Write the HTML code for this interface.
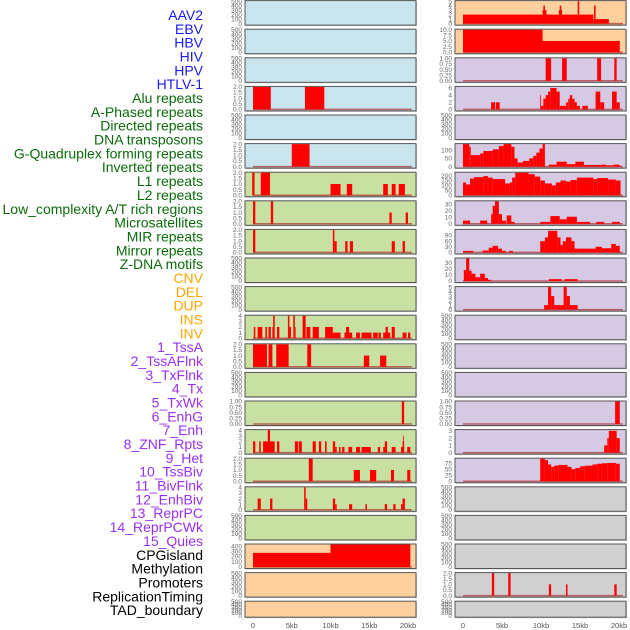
<!DOCTYPE html>
<html><head><meta charset="utf-8"><style>
html,body{margin:0;padding:0;background:#fff;}
svg{display:block;font-family:"Liberation Sans",sans-serif;}
</style></head><body>
<svg id="chart" width="630" height="630" viewBox="0 0 630 630" xmlns="http://www.w3.org/2000/svg">
<g id="labels"></g>
<g id="panels"></g>
<g id="xaxis"></g>
</svg>
<script>
// ---------- data ----------
const trackLabels = ["AAV2","EBV","HBV","HIV","HPV","HTLV-1","Alu repeats","A-Phased repeats","Directed repeats","DNA transposons","G-Quadruplex forming repeats","Inverted repeats","L1 repeats","L2 repeats","Low_complexity A/T rich regions","Microsatellites","MIR repeats","Mirror repeats","Z-DNA motifs","CNV","DEL","DUP","INS","INV","1_TssA","2_TssAFlnk","3_TxFlnk","4_Tx","5_TxWk","6_EnhG","7_Enh","8_ZNF_Rpts","9_Het","10_TssBiv","11_BivFlnk","12_EnhBiv","13_ReprPC","14_ReprPCWk","15_Quies","CPGisland","Methylation","Promoters","ReplicationTiming","TAD_boundary"];
const labelGroups = ["v","v","v","v","v","v","r","r","r","r","r","r","r","r","r","r","r","r","r","s","s","s","s","s","c","c","c","c","c","c","c","c","c","c","c","c","c","c","c","o","o","o","o","o"];
const xTickKb = [0,5,10,15,20];
const xTickLabels = ["0","5kb","10kb","15kb","20kb"];

// segments: [startKb, endKb, value]
const L3 = [[0,2.3,2],[6.7,9.2,2]];
const L5 = [[5.0,7.3,2]];
const L6 = [[-0.1,0.2,2],[1.0,2.2,2],[10.0,11.3,1],[12.1,12.8,1],[16.8,17.4,1],[17.9,18.4,1],[18.8,19.6,1]];
const L7 = [[0,0.3,2],[2.3,2.6,2],[17.6,17.9,1],[19.7,20.0,1]];
const L8 = [[0,0.3,2],[10.3,10.5,2],[10.5,10.8,1],[11.9,12.2,1],[12.5,12.9,1],[17.9,18.3,1],[19.3,19.6,1]];
const L11 = [[0.1,0.3,2],[0.6,1.2,2],[1.6,1.8,2],[2.0,2.3,2],[2.5,2.7,2],[2.6,2.8,4],[3.1,3.4,2],[4.5,4.7,4],[4.7,4.9,2],[5.2,5.4,4],[5.4,5.5,2],[6.4,6.8,4],[6.9,7.4,2],[7.7,8.5,2],[9.3,10.3,2],[10.3,11.3,1],[11.8,12.8,1],[12.0,12.4,2],[13.3,13.8,1],[14.0,15.3,1],[15.5,16.1,1],[16.2,16.5,1],[16.8,17.7,1],[17.1,17.4,2],[17.9,18.3,2],[19.3,19.8,1],[20.0,20.3,1]];
const L12 = [[0,1.8,2],[2.0,2.5,2],[3.0,4.6,2],[7.0,7.5,2],[14.3,15.0,1],[16.4,17.2,1]];
const L14 = [[19.2,19.5,1]];
const L15 = [[0,0.3,2],[0.8,1.0,2],[1.3,2.8,2],[1.9,2.2,4],[3.1,3.4,2],[5.4,5.8,2],[5.9,6.3,2],[7.7,8.1,2],[8.5,8.8,2],[9.3,9.5,2],[10.3,10.6,2],[10.6,10.8,1],[11.1,11.3,1],[11.5,11.8,1],[12.3,12.8,1],[13.3,13.8,1],[14.0,14.7,1],[14.7,15.2,1],[16.1,16.4,1],[16.8,17.3,1],[17.0,17.3,2],[17.9,18.4,1],[19.1,19.5,1],[19.3,19.5,2],[19.35,19.45,3],[19.9,20.3,1]];
const L16 = [[7.2,7.7,2],[13.0,13.8,1],[15.1,15.9,1],[17.8,18.2,1],[19.9,20.3,1]];
const L17 = [[0.6,1.0,2],[2.2,2.5,2],[6.6,6.8,4],[6.8,7.0,2],[10.3,10.6,2],[10.6,10.8,1],[12.4,12.8,1],[14.5,14.7,1],[17.0,17.3,1],[18.1,18.4,1],[19.1,19.3,1],[19.3,19.6,2]];
const L19 = [[0,10,270],[10,20.3,430]];

const R0 = [[0,16.7,2],[10.2,10.7,3],[10.3,10.5,4],[12.3,12.7,3],[12.4,12.6,4],[14.7,14.9,5],[16.8,17.0,4],[16.7,18.7,1]];
const R1 = [[0,10.2,10],[10.2,20.1,5]];
const R2 = [[10.6,11.3,1],[12.7,13.3,1],[17.2,17.7,1],[19.4,19.7,1]];
const R3 = [[3.6,4.1,2],[4.2,4.7,2],[9.9,10.0,4],[10.0,10.3,1],[10.3,10.6,3],[10.6,10.9,4],[10.9,11.2,5],[11.2,12.0,6],[12.0,12.4,5],[12.4,13.2,1],[13.2,13.5,2],[13.5,13.7,3],[13.7,14.0,4],[14.0,14.3,3],[14.3,14.6,2],[14.6,15.0,1],[15.3,16.0,1],[17.0,17.6,5],[17.6,18.1,2],[19.1,19.7,5],[19.7,20.1,2]];
const R5 = [[0,0.8,137],[0.8,1.0,120],[1.0,2.2,70],[2.2,2.6,80],[2.6,3.8,95],[3.8,4.6,105],[4.6,5.2,125],[5.2,6.2,137],[6.2,6.6,120],[6.6,7.0,50],[7.0,7.7,25],[7.7,8.5,35],[8.5,9.0,50],[9.0,9.4,65],[9.4,9.8,85],[9.8,10.2,110],[10.2,10.5,137],[11.0,12.0,12],[12.0,13.3,30],[13.3,14.4,15],[14.4,15.5,30],[15.5,17.8,10],[17.8,18.3,12],[18.3,19.3,8],[19.3,20.0,12],[20.0,20.2,8]];
const R6 = [[0,0.4,130],[0.4,0.9,110],[0.9,1.4,170],[1.4,2.6,185],[2.6,3.2,195],[3.2,3.8,180],[3.8,5.4,165],[5.4,6.0,120],[6.0,6.3,130],[6.3,6.7,180],[6.7,8.4,230],[8.4,9.2,215],[9.2,9.9,190],[9.9,10.5,150],[10.5,11.4,120],[11.4,11.9,100],[11.9,12.5,130],[12.5,13.2,150],[13.2,13.8,140],[13.8,14.6,155],[14.6,16.7,180],[16.7,17.2,165],[17.2,18.6,175],[18.6,19.6,160],[19.6,20.2,150]];
const R7 = [[0,0.9,5],[2.2,3.1,5],[3.6,3.8,15],[3.8,4.1,28],[4.1,4.6,35],[4.6,5.0,15],[5.0,5.5,5],[5.6,6.2,13],[6.2,6.6,3],[9.9,11.2,3],[11.2,12.4,12],[12.4,13.3,7],[13.3,14.6,11],[14.6,16.3,3],[17.1,18.1,3],[19.1,20.1,3]];
const R8 = [[0,1.3,8],[2.5,3.3,10],[3.3,3.8,25],[3.8,4.5,35],[4.5,5.0,20],[5.0,5.5,8],[5.9,6.4,8],[9.9,10.5,60],[10.5,10.9,80],[10.9,12.1,115],[12.1,12.5,80],[12.5,12.8,40],[12.8,13.2,60],[13.2,13.9,80],[13.9,14.3,60],[14.3,14.7,20],[14.7,17.0,20],[17.0,17.8,30],[17.8,19.0,22],[19.0,19.6,45],[19.6,20.1,35]];
const R9 = [[0.1,0.4,18],[0.4,0.8,37],[0.8,1.1,17],[1.1,1.6,12],[1.6,2.2,6],[2.2,2.8,12],[2.8,3.2,5],[3.2,3.6,2],[11.0,12.7,3],[13.0,14.7,3]];
const R10 = [[10.4,10.9,1],[10.9,11.3,5],[11.3,11.7,3],[11.7,12.9,1],[12.9,13.3,5],[13.3,13.7,3],[13.7,14.7,1]];
const R14 = [[19.5,20.1,1]];
const R15 = [[18.1,18.5,1],[18.5,18.7,2],[18.7,19.7,3],[19.7,20.1,2]];
const R16 = [[9.9,10.5,94],[10.5,10.9,88],[10.9,11.3,70],[11.3,11.7,60],[11.7,12.2,65],[12.2,13.4,68],[13.4,13.9,60],[13.9,14.4,50],[14.4,15.0,55],[15.0,15.6,62],[15.6,16.6,65],[16.6,17.2,70],[17.2,17.8,73],[17.8,18.5,75],[18.5,19.6,76],[19.6,20.1,73]];
const R20 = [[3.7,4.0,2],[5.8,6.1,2],[11.0,11.3,1],[13.2,13.4,1],[19.4,19.7,1]];

const emptyTicks = [0,100,200,300,400,500];
const t2 = [0,0.5,1.0,1.5,2.0];
const t4 = [0,1,2,3,4];
const t1 = [0,0.25,0.5,0.75,1.0];

// panel specs per row: [segments, yMax, ticks, decimals]
const leftTracks = [
 [null],[null],[null],[L3,2,t2,1],[null],[L5,2,t2,1],
 [L6,2,t2,1],[L7,2,t2,1],[L8,2,t2,1],[null],[null],[L11,4,t4,0],[L12,2,t2,1],[null],[L14,1,t1,2],
 [L15,4,t4,0],[L16,2,t2,1],[L17,4,t4,0],[null],[L19,430,[0,100,200,300,400],0],[null],[null]];
const rightTracks = [
 [R0,5,[0,1,2,3,4,5],0],[R1,10,[0,2.5,5,7.5,10],1],[R2,1,t1,2],[R3,6.3,[0,2,4,6],0],[null],
 [R5,137,[0,50,100],0],[R6,230,[0,50,100,150,200],0],[R7,35,[0,10,20,30],0],[R8,120,[0,30,60,90],0],[R9,37,[0,10,20,30],0],
 [R10,5,[0,1,2,3,4,5],0],[null],[null],[null],[R14,1,t1,2],[R15,3.1,[0,1,2,3],0],[R16,94,[0,25,50,75],0],
 [null],[null],[null],[R20,2,t2,1],[null]];
const leftBg = ["b","b","b","b","b","b","g","g","g","g","g","g","g","g","g","g","g","g","g","p","p","p"];
const rightBg = ["p","p","u","u","u","u","u","u","u","u","u","u","u","u","u","u","u","y","y","y","y","y"];

// ---------- drawing ----------
const NS = "http://www.w3.org/2000/svg";
const bgColors = {b:"#c8e4ec", g:"#c8e1a2", p:"#fdd09e", u:"#d6c9e3", y:"#d0d0d0"};
const labelColors = {v:"#1a1aee", r:"#0b6b0b", s:"#ffa500", c:"#9b30f0", o:"#000000"};
function el(tag, attrs, parent){const e=document.createElementNS(NS,tag);for(const k in attrs)e.setAttribute(k,attrs[k]);parent.appendChild(e);return e;}

const labG = document.getElementById("labels");
trackLabels.forEach((t,i)=>{
  const e = el("text",{x:203,y:15+i*13.84+5,"text-anchor":"end","font-size":"14",fill:labelColors[labelGroups[i]]},labG);
  e.textContent=t;
  
  
});

const panG = document.getElementById("panels");
const cols = [{x0:245,x1:416,k0:253,ppk:7.75,tracks:leftTracks,bg:leftBg,name:"left"},
              {x0:455,x1:626,k0:463,ppk:7.8,tracks:rightTracks,bg:rightBg,name:"right"}];
function fmt(v,d){return v.toFixed(d);}
cols.forEach(c=>{
  const xs = kb=>c.k0+kb*c.ppk;
  c.tracks.forEach((tr,i)=>{
    const top = 0.6+i*28.6;
    const h = i===21 ? 16 : 24.5;
    const g = el("g",{},panG);
    
    
    el("rect",{x:c.x0+1,y:top+1,width:c.x1-c.x0,height:h,fill:"#999",opacity:0.5},g);
    el("rect",{x:c.x0,y:top,width:c.x1-c.x0,height:h,fill:bgColors[c.bg[i]],stroke:"#555","stroke-width":1},g);
    const segs = tr[0];
    const yMax = segs ? tr[1] : 500;
    const ticks = segs ? tr[2] : emptyTicks;
    const dec = segs ? tr[3] : 0;
    const yb = top+h-1.5, yt = top+0.5;
    const ys = v=>yb-(v/yMax)*(yb-yt);
    ticks.forEach(t=>{
      const tx = el("text",{x:c.x0-3,y:ys(t)+2.2,"text-anchor":"end","font-size":"6.5",fill:"#666"},g);
      tx.textContent = fmt(t,dec);
      
      
    });
    if(segs){
      el("line",{x1:xs(0),x2:xs(20.5),y1:yb,y2:yb,stroke:"#b03030","stroke-width":1.5,opacity:0.7},g);
      segs.forEach(s=>{
        const r = el("rect",{x:xs(s[0]),y:ys(s[2]),width:Math.max(0.8,xs(s[1])-xs(s[0])),height:yb-ys(s[2]),fill:"#ff0000"},g);
        
        
      });
    }
  });
  const ax = document.getElementById("xaxis");
  xTickKb.forEach((k,j)=>{
    const t = el("text",{x:xs(k),y:628,"text-anchor":"middle","font-size":"7.5",fill:"#555"},ax);
    t.textContent = xTickLabels[j];
    
    
  });
});
</script>
</body></html>
